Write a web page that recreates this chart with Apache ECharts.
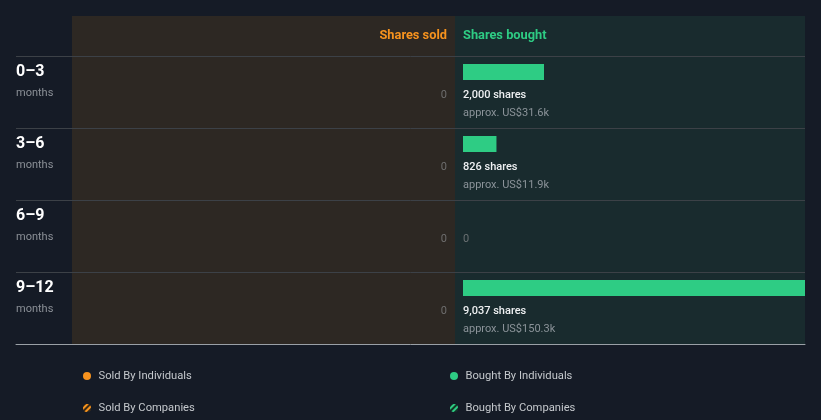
<!DOCTYPE html>
<html>
<head>
<meta charset="utf-8">
<script src="https://cdn.jsdelivr.net/npm/echarts@6/dist/echarts.min.js"></script>
<style>
html,body{margin:0;padding:0;background:#151b26;}
#chart{width:821px;height:420px;}
</style>
</head>
<body>
<div id="chart"></div>
<script>
const categories = ['0–3', '3–6', '6–9', '9–12'];
const periodUnit = 'months';
const soldIndividuals = [0, 0, 0, 0];
const soldCompanies = [0, 0, 0, 0];
const boughtIndividuals = [2000, 826, 0, 9037];
const boughtCompanies = [0, 0, 0, 0];
const boughtValueLabels = ['approx. US$31.6k', 'approx. US$11.9k', '', 'approx. US$150.3k'];
const headerSold = 'Shares sold';
const headerBought = 'Shares bought';
const legendNames = ['Sold By Individuals', 'Bought By Individuals', 'Sold By Companies', 'Bought By Companies'];

const FONT = 'Roboto';
const ORANGE = '#f7931e';
const GREEN = '#2ecc84';

const chart = echarts.init(document.getElementById('chart'), null, {renderer: 'canvas'});

const fmt = v => v.toLocaleString('en-US');

const legendText = {color: '#c4c8cc', fontSize: 11.2, lineHeight: 14, fontFamily: FONT};

const option = {
  backgroundColor: '#151b26',
  animation: false,
  textStyle: {fontFamily: FONT},
  title: [
    {text: headerSold, right: 374, top: 29, padding: 0,
     textStyle: {color: ORANGE, fontSize: 12.8, fontWeight: 'bold', fontFamily: FONT}},
    {text: headerBought, left: 463, top: 29, padding: 0,
     textStyle: {color: GREEN, fontSize: 12.8, fontWeight: 'bold', fontFamily: FONT}}
  ],
  graphic: [
    {type: 'rect', z: -10, shape: {x: 72, y: 16, width: 383, height: 328}, style: {fill: '#2d2823'}},
    {type: 'rect', z: -10, shape: {x: 455, y: 16, width: 350, height: 328}, style: {fill: '#192b2e'}}
  ],
  grid: [
    {left: 72, right: 366, top: 56, height: 288, containLabel: false},
    {left: 463, right: 16, top: 56, height: 288, containLabel: false},
    {left: 16, right: 16, top: 56, height: 288, containLabel: false}
  ],
  xAxis: [
    {gridIndex: 0, type: 'value', inverse: true, min: 0, max: 8444, show: false},
    {gridIndex: 1, type: 'value', min: 0, max: 8444, show: false},
    {gridIndex: 2, type: 'value', min: 0, max: 1, position: 'bottom',
     axisLine: {show: true, lineStyle: {color: '#9aa0a6', width: 1}},
     axisTick: {show: false}, axisLabel: {show: false}, splitLine: {show: false}}
  ],
  yAxis: [
    {gridIndex: 0, type: 'category', inverse: true, data: categories,
     axisLine: {show: false}, axisTick: {show: false}, splitLine: {show: false},
     axisLabel: {
       align: 'left', margin: 56,
       formatter: v => '{a|' + v + '}\n{b|' + periodUnit + '}\n{c| }',
       rich: {
         a: {fontSize: 16, fontWeight: 'bold', color: '#ffffff', lineHeight: 22, fontFamily: FONT},
         b: {fontSize: 11, color: '#8b9097', lineHeight: 22, fontFamily: FONT},
         c: {fontSize: 11, lineHeight: 19}
       }
     }},
    {gridIndex: 1, type: 'category', inverse: true, data: categories, show: false},
    {gridIndex: 2, type: 'category', inverse: true, data: categories,
     axisLine: {show: false}, axisTick: {show: false}, axisLabel: {show: false},
     splitLine: {show: true, lineStyle: {color: '#3c4147', width: 1}}}
  ],
  legend: [
    {left: 83, top: 369, itemWidth: 13, itemHeight: 8, icon: 'circle', selectedMode: false, padding: 0,
     textStyle: legendText,
     data: [{name: legendNames[0], itemStyle: {color: ORANGE}}]},
    {left: 450, top: 369, itemWidth: 13, itemHeight: 8, icon: 'circle', selectedMode: false, padding: 0,
     textStyle: legendText,
     data: [{name: legendNames[1], itemStyle: {color: GREEN}}]},
    {left: 83, top: 401, itemWidth: 13, itemHeight: 8, icon: 'circle', selectedMode: false, padding: 0,
     textStyle: legendText,
     data: [{name: legendNames[2], itemStyle: {color: '#3a2a14',
       decal: {color: ORANGE, dashArrayX: [1, 0], dashArrayY: [1.5, 1.5], rotation: -Math.PI / 4, symbolSize: 1}}}]},
    {left: 450, top: 401, itemWidth: 13, itemHeight: 8, icon: 'circle', selectedMode: false, padding: 0,
     textStyle: legendText,
     data: [{name: legendNames[3], itemStyle: {color: '#133526',
       decal: {color: GREEN, dashArrayX: [1, 0], dashArrayY: [1.5, 1.5], rotation: -Math.PI / 4, symbolSize: 1}}}]}
  ],
  series: [
    {name: legendNames[0], type: 'bar', xAxisIndex: 0, yAxisIndex: 0, stack: 's', barWidth: 16,
     data: soldIndividuals, itemStyle: {color: ORANGE},
     label: {show: true, position: 'left', distance: 8, offset: [0, 3],
             color: '#6e6e6e', fontSize: 11, fontFamily: FONT, formatter: p => fmt(p.value)}},
    {name: legendNames[2], type: 'bar', xAxisIndex: 0, yAxisIndex: 0, stack: 's', barWidth: 16,
     data: soldCompanies, itemStyle: {color: ORANGE}, label: {show: false}},
    {name: legendNames[1], type: 'bar', xAxisIndex: 1, yAxisIndex: 1, stack: 'b', barWidth: 16, barGap: '0%',
     data: boughtIndividuals, itemStyle: {color: GREEN},
     label: {show: true, position: [0, 22], align: 'left', verticalAlign: 'top',
       formatter: p => p.value === 0 ? '{z|0}' :
         '{a|' + fmt(p.value) + ' shares}\n{b|' + boughtValueLabels[p.dataIndex] + '}',
       rich: {
         a: {fontSize: 11, color: '#eef0f2', fontWeight: 500, lineHeight: 18, fontFamily: FONT},
         b: {fontSize: 11, color: '#8b9399', lineHeight: 18, fontFamily: FONT},
         z: {fontSize: 11, color: '#6b7173', lineHeight: 18, fontFamily: FONT}
       }}},
    {name: legendNames[3], type: 'bar', xAxisIndex: 1, yAxisIndex: 1, stack: 'b', barWidth: 16, barGap: '0%',
     data: boughtCompanies, itemStyle: {color: GREEN}, label: {show: false}},
    {name: 'pad', type: 'bar', xAxisIndex: 1, yAxisIndex: 1, barWidth: 40, barGap: '0%', silent: true,
     data: [0, 0, 0, 0], itemStyle: {color: 'rgba(0,0,0,0)'}, label: {show: false}}
  ]
};
chart.setOption(option);
</script>
</body>
</html>
